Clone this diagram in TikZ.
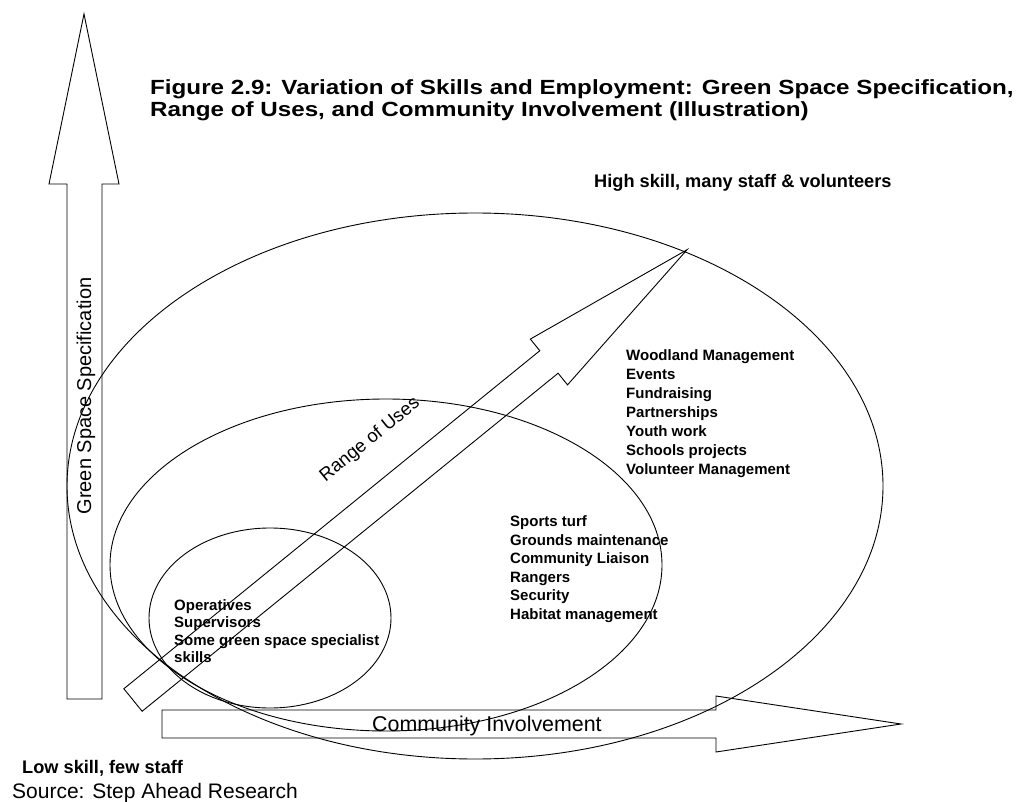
\documentclass[tikz,border=0pt]{standalone}
\usepackage{fontspec}
\setmainfont{Liberation Sans}
\usepackage{graphicx}
\begin{document}
\begin{tikzpicture}[x=1pt, y=-1pt,
  outline/.style={draw=black, line width=0.9pt, line join=miter},
  listtext/.style={inner sep=0pt, anchor=base west, font=\bfseries\fontsize{15}{17}\selectfont},
  bigtext/.style={inner sep=0pt, anchor=base west, font=\bfseries\fontsize{18.2}{21}\selectfont},
  axistext/.style={inner sep=0pt, font=\fontsize{20}{24}\selectfont},
]
\useasboundingbox (0,0) rectangle (1028,802);

% vertical block arrow: green space specification
\draw[outline] (67,699) -- (67,184) -- (49,184) -- (84,14) -- (119,184) -- (102,184) -- (102,699) -- cycle;
\node[axistext, rotate=90, anchor=base] (gss) at (91,396) {Green Space Specification};

% horizontal block arrow: community involvement
\draw[outline] (162,710) -- (716,710) -- (716,696) -- (901,724) -- (716,752) -- (716,738) -- (162,738) -- cycle;
\node[axistext, anchor=base west, font=\fontsize{21.4}{24}\selectfont] (ci) at (372,731.5) {Community Involvement};

% the three nested ellipses, all meeting near the foot of the diagonal arrow
\draw[outline] (475,486) ellipse [x radius=408, y radius=273];
\draw[outline] (386,565) ellipse [x radius=276, y radius=166];
\draw[outline] (270,618) ellipse [x radius=121, y radius=90];

% diagonal block arrow: range of uses
\begin{scope}[shift={(133,700)}, rotate=39.1]
\draw[outline] (0,-14.5) -- (536,-14.5) -- (536,-29.5) -- (714,0) -- (536,29.5) -- (536,14.5) -- (0,14.5) -- cycle;
\end{scope}
\node[axistext, rotate=39.1, font=\fontsize{18.5}{22}\selectfont] (rou) at (370,440) {Range of Uses};

% title
\node[inner sep=0pt, anchor=base west, font=\bfseries\fontsize{20.5}{23}\selectfont] (t1) at (150,95)
  {\scalebox{1.18}[1]{Figure 2.9: Variation of Skills and Employment: Green Space Specification,}};
\node[inner sep=0pt, anchor=base west, font=\bfseries\fontsize{20.5}{23}\selectfont] (t2) at (150,117)
  {\scalebox{1.18}[1]{Range of Uses, and Community Involvement (Illustration)}};

% ends of the scale
\node[bigtext] (high) at (594,188) {High skill, many staff \& volunteers};
\node[bigtext] (low) at (22,773) {Low skill, few staff};

% skills in each ellipse
\foreach \t [count=\i from 0] in {Woodland Management, Events, Fundraising, Partnerships, Youth work, Schools projects, Volunteer Management}
  \node[listtext] (w\i) at (626,{360.4+19*\i}) {\t};
\foreach \t [count=\i from 0] in {Sports turf, Grounds maintenance, Community Liaison, Rangers, Security, Habitat management}
  \node[listtext] (s\i) at (510,{526.4+18.6*\i}) {\t};
\foreach \t [count=\i from 0] in {Operatives, Supervisors, Some green space specialist, skills}
  \node[listtext] (o\i) at (174,{610.4+17.4*\i}) {\t};

% source line
\node[inner sep=0pt, anchor=base west, font=\fontsize{21}{24}\selectfont] (src) at (12,798) {Source: Step Ahead Research};
\end{tikzpicture}
\end{document}
